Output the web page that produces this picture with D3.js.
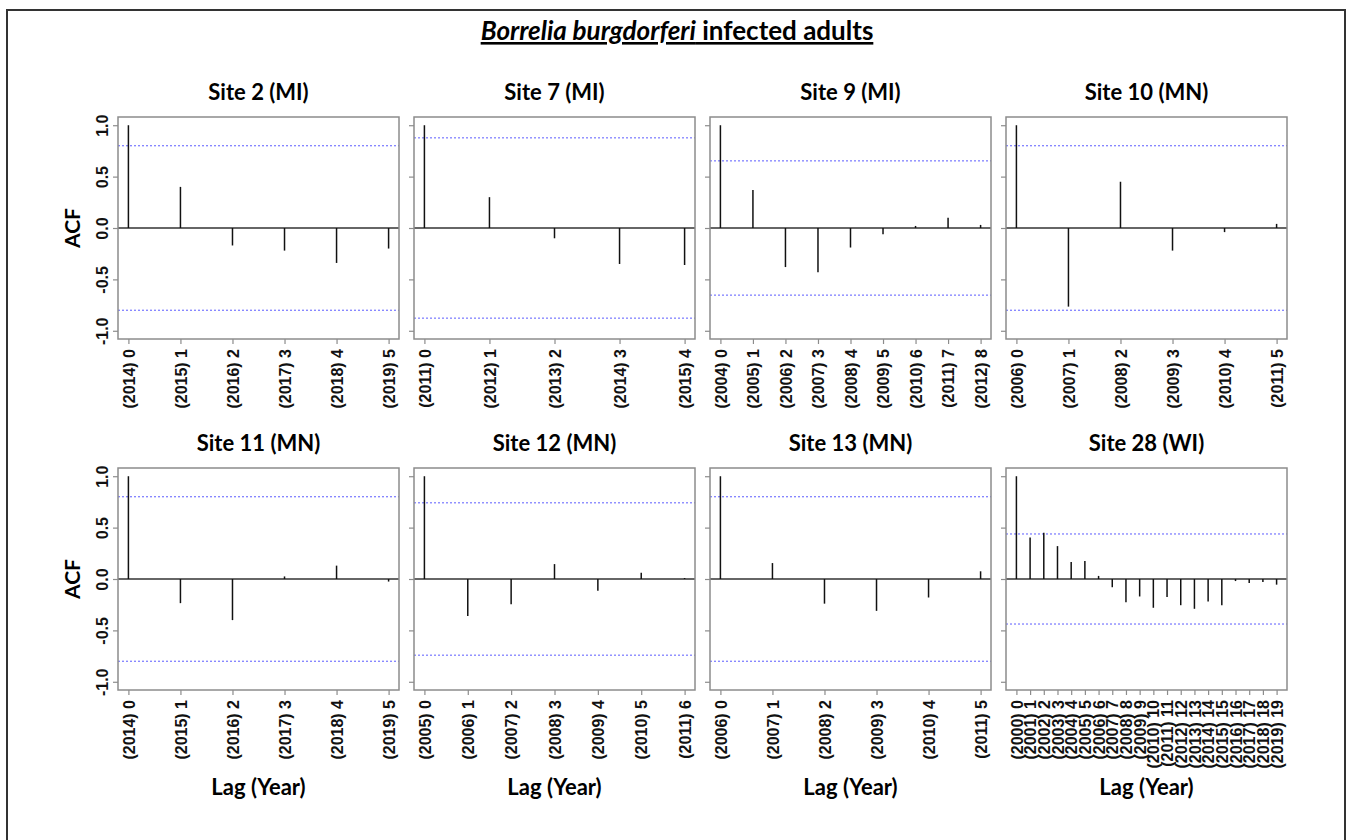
<!DOCTYPE html>
<html>
<head>
<meta charset="utf-8">
<script src="https://cdn.jsdelivr.net/npm/d3@7"></script>
<style>
  body { margin: 0; background: #fff; }
  svg { font-family: Lato, "Open Sans", sans-serif; }
  .frame { fill: none; stroke: #8c8c8c; stroke-width: 1.5; }
  .axis line { stroke: #8c8c8c; stroke-width: 1.2; }
  .axis text { font-size: 16px; font-weight: bold; fill: #111; }
  .axis .domain { display: none; }
</style>
</head>
<body>
<div id="chart"></div>
<script>
// panel titles and first year of each series
var siteNames = ["Site 2 (MI)", "Site 7 (MI)", "Site 9 (MI)", "Site 10 (MN)",
                 "Site 11 (MN)", "Site 12 (MN)", "Site 13 (MN)", "Site 28 (WI)"];
var startYears = [2014, 2011, 2004, 2006, 2014, 2005, 2006, 2000];

// ACF values by lag
var acfSite2  = [1, 0.40, -0.17, -0.22, -0.34, -0.20];
var acfSite7  = [1, 0.30, -0.10, -0.35, -0.36];
var acfSite9  = [1, 0.37, -0.38, -0.43, -0.19, -0.06, 0.02, 0.10, 0.03];
var acfSite10 = [1, -0.765, 0.45, -0.22, -0.04, 0.04];
var acfSite11 = [1, -0.235, -0.40, 0.025, 0.13, -0.025];
var acfSite12 = [1, -0.36, -0.245, 0.145, -0.115, 0.06, 0.01];
var acfSite13 = [1, 0.155, -0.24, -0.31, -0.18, 0.075];
var acfSite28 = [1, 0.405, 0.45, 0.32, 0.165, 0.175, 0.03, -0.08, -0.225, -0.17,
                 -0.28, -0.175, -0.255, -0.29, -0.22, -0.255, -0.02, -0.04, -0.03, -0.055];
var acfValues = [acfSite2, acfSite7, acfSite9, acfSite10, acfSite11, acfSite12, acfSite13, acfSite28];

// significance bounds (blue dashed lines)
var ciBounds = [0.80, 0.877, 0.653, 0.80, 0.80, 0.741, 0.80, 0.438];

var yTicks = [-1, -0.5, 0, 0.5, 1];

var W = 1352, H = 840;
var svg = d3.select("#chart").append("svg")
    .attr("width", W)
    .attr("height", H);

// outer border (bottom edge falls outside the picture)
svg.append("rect")
    .attr("x", 7).attr("y", 10)
    .attr("width", 1338).attr("height", 860)
    .attr("fill", "none")
    .attr("stroke", "#333")
    .attr("stroke-width", 2);

// main title, italic species name + underline
var title = svg.append("text")
    .attr("x", 677).attr("y", 40)
    .attr("text-anchor", "middle")
    .style("font-size", "26px")
    .style("font-weight", "bold")
    .style("text-decoration", "underline");
title.append("tspan").style("font-style", "italic").text("Borrelia burgdorferi");
title.append("tspan").text(" infected adults");

var panelW = 281, panelH = 222;
var lefts = [118, 414, 710, 1006];
var tops = [117, 468];

// R style labels: plain hyphen for the minus sign
var fmtY = function(d) { return d3.format(".1f")(d).replace("\u2212", "-"); };

siteNames.forEach(function(name, i) {
  var col = i % 4, row = Math.floor(i / 4);
  var vals = acfValues[i];
  var n = vals.length - 1;
  var pad = n * 0.04;

  var g = svg.append("g")
      .attr("transform", "translate(" + lefts[col] + "," + tops[row] + ")");

  var x = d3.scaleLinear()
      .domain([-pad, n + pad])
      .range([0, panelW]);
  var y = d3.scaleLinear()
      .domain([-1.08, 1.08])
      .range([panelH, 0]);

  // panel title
  g.append("text")
      .attr("x", panelW / 2)
      .attr("y", -17)
      .attr("text-anchor", "middle")
      .style("font-size", "22px")
      .style("font-weight", "bold")
      .text(name);

  // y axis - labels only on first column
  var yAxis = g.append("g")
      .attr("class", "axis")
      .call(d3.axisLeft(y).tickValues(yTicks).tickSize(5)
        .tickFormat(col === 0 ? fmtY : ""));
  yAxis.selectAll("text")
      .attr("x", 0)
      .attr("y", 0)
      .attr("dy", "0.35em")
      .attr("transform", "translate(-16,0) rotate(-90)")
      .style("text-anchor", "middle");

  // x axis with "(year) lag" labels
  var lags = d3.range(n + 1);
  var xAxis = g.append("g")
      .attr("class", "axis")
      .attr("transform", "translate(0," + panelH + ")")
      .call(d3.axisBottom(x).tickValues(lags).tickSize(5)
        .tickFormat(function(d) { return "(" + (startYears[i] + d) + ") " + d; }));
  xAxis.selectAll("text")
      .attr("transform", "rotate(-90)")
      .attr("x", -10)
      .attr("y", 0)
      .attr("dy", "0.35em")
      .style("text-anchor", "end");

  // zero line
  g.append("line")
      .attr("x1", 0).attr("x2", panelW)
      .attr("y1", y(0)).attr("y2", y(0))
      .attr("stroke", "#333")
      .attr("stroke-width", 1.5);

  // confidence bounds
  [ciBounds[i], -ciBounds[i]].forEach(function(b) {
    g.append("line")
        .attr("x1", 0).attr("x2", panelW)
        .attr("y1", y(b)).attr("y2", y(b))
        .attr("stroke", "#5b5bff")
        .attr("stroke-width", 1)
        .attr("stroke-dasharray", "2,2");
  });

  // spikes
  g.selectAll(".spike")
      .data(vals)
      .enter().append("line")
      .attr("class", "spike")
      .attr("x1", function(d, k) { return x(k); })
      .attr("x2", function(d, k) { return x(k); })
      .attr("y1", y(0))
      .attr("y2", function(d) { return y(d); })
      .attr("stroke", "#111")
      .attr("stroke-width", 1.5);

  // box
  g.append("rect")
      .attr("class", "frame")
      .attr("width", panelW)
      .attr("height", panelH);

  if (col === 0) {
    g.append("text")
        .attr("transform", "translate(-38," + (panelH / 2) + ") rotate(-90)")
        .attr("text-anchor", "middle")
        .style("font-size", "21px")
        .style("font-weight", "bold")
        .text("ACF");
  }
  if (row === 1) {
    g.append("text")
        .attr("x", panelW / 2)
        .attr("y", panelH + 105)
        .attr("text-anchor", "middle")
        .style("font-size", "22px")
        .style("font-weight", "bold")
        .text("Lag (Year)");
  }
});
</script>
</body>
</html>
